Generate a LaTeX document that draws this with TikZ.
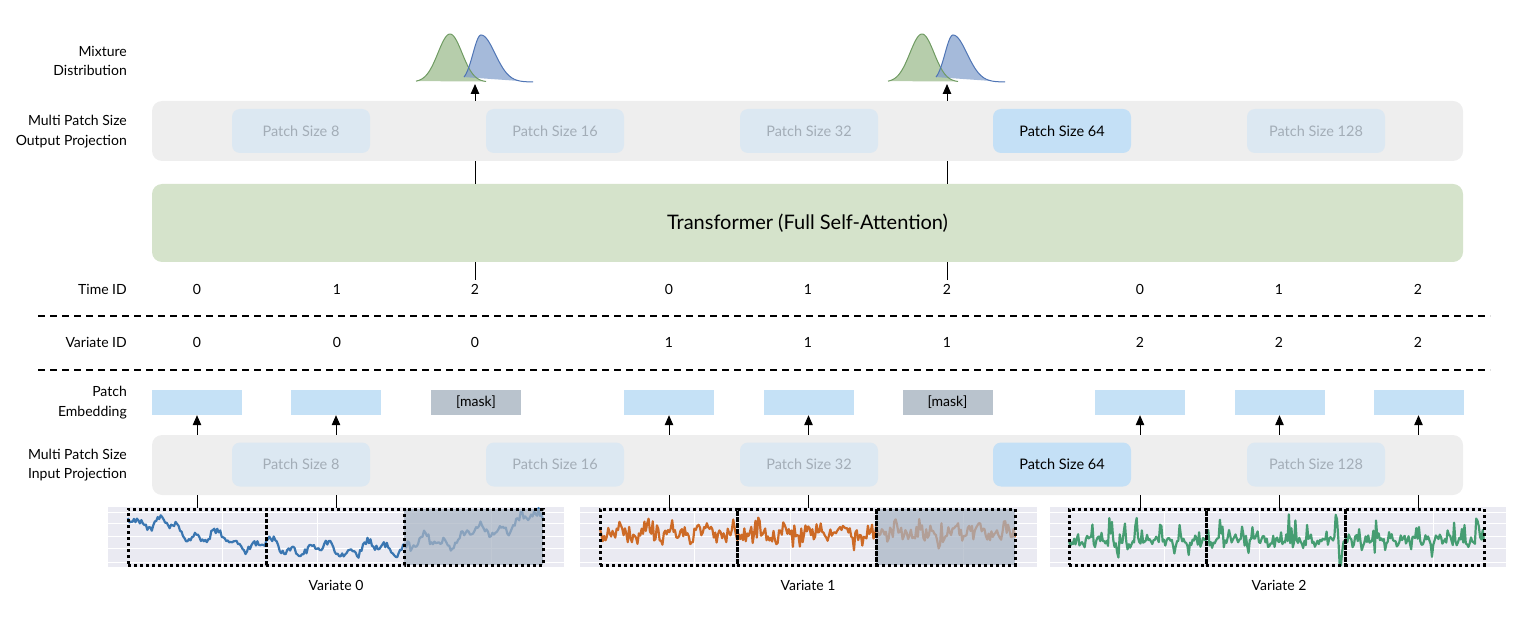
\documentclass[tikz,border=0pt]{standalone}
\usepackage{fontspec}
\setmainfont{Lato}
\usetikzlibrary{arrows.meta}
\definecolor{bandgray}{HTML}{EEEEEE}
\definecolor{pfaint}{HTML}{DCE8F2}
\definecolor{pfainttext}{HTML}{A3ADB7}
\definecolor{phigh}{HTML}{C4E0F6}
\definecolor{trgreen}{HTML}{D5E3CB}
\definecolor{embblue}{HTML}{C5E1F6}
\definecolor{maskgray}{HTML}{B9C3CD}
\definecolor{plotbg}{HTML}{EAEAF2}
\definecolor{serA}{HTML}{3A76B1}
\definecolor{serB}{HTML}{CD6A26}
\definecolor{serC}{HTML}{469D72}
\definecolor{maskover}{HTML}{A8B4C3}
\definecolor{distgfill}{HTML}{97B887}
\definecolor{distgline}{HTML}{6F9B62}
\definecolor{distbfill}{HTML}{7F9CCB}
\definecolor{distbline}{HTML}{4F75B5}
\begin{document}
\begin{tikzpicture}[x=1pt,y=-1pt,
  every node/.style={font=\fontsize{14}{19.5}\selectfont, inner sep=0pt},
  band/.style={fill=bandgray, rounded corners=10pt, minimum width=1311pt, minimum height=60pt},
  psfaint/.style={fill=pfaint, text=pfainttext, rounded corners=8pt, minimum width=138pt, minimum height=44pt, font=\fontsize{14.5}{17}\selectfont},
  pshigh/.style={psfaint, fill=phigh, text=black},
  rowlabel/.style={anchor=east, align=right},
  embbox/.style={fill=embblue, minimum width=90pt, minimum height=25pt},
  maskbox/.style={embbox, fill=maskgray},
  arr/.style={line width=1pt, -{Triangle[length=10pt,width=8.5pt]}},
  conn/.style={line width=1pt},
  sep/.style={line width=1.2pt, dash pattern=on 7pt off 5pt},
  pbox/.style={draw=black, line width=3pt, dash pattern=on 3pt off 3pt, minimum height=56pt},
  series/.style={line width=2.2pt, line join=round},
  distg/.style={fill=distgfill, fill opacity=0.7},
  distb/.style={fill=distbfill, fill opacity=0.7},
]
\useasboundingbox (0,0) rectangle (1536,636);

% ---------- labels on the left ----------
\node[rowlabel] (lmix) at (127,61) {Mixture\\Distribution};
\node[rowlabel] (lout) at (127,131.5) {Multi Patch Size\\Output Projection};
\node[rowlabel] (ltime) at (127,289) {Time ID};
\node[rowlabel] (lvar) at (127,342) {Variate ID};
\node[rowlabel] (lemb) at (127,402.5) {Patch\\Embedding};
\node[rowlabel] (lin) at (127,465) {Multi Patch Size\\Input Projection};

% ---------- output projection ----------
\node[band] (outband) at (807.5,131) {};
\node[psfaint] (o8) at (301,131) {Patch Size 8};
\node[psfaint] (o16) at (555,131) {Patch Size 16};
\node[psfaint] (o32) at (809,131) {Patch Size 32};
\node[pshigh] (o64) at (1062,131) {Patch Size 64};
\node[psfaint] (o128) at (1316,131) {Patch Size 128};

% ---------- transformer ----------
\node[fill=trgreen, rounded corners=10pt, minimum width=1311pt, minimum height=78pt,
      font=\fontsize{20}{24}\selectfont] (tr) at (807.5,223) {Transformer (Full Self-Attention)};

% ---------- ids ----------
\foreach \x/\v [count=\i] in {197/0,337/1,475/2,669/0,808/1,947/2,1140/0,1279/1,1418/2}
  \node (t\i) at (\x,289) {\v};
\foreach \x/\v [count=\i] in {197/0,337/0,475/0,669/1,808/1,947/1,1140/2,1279/2,1418/2}
  \node (v\i) at (\x,342) {\v};
\draw[sep] (38,316) -- (1490,316);
\draw[sep] (38,370) -- (1490,370);

% ---------- patch embedding ----------
\node[embbox] (e1) at (197,402.5) {};
\node[embbox] (e2) at (336,402.5) {};
\node[maskbox] (e3) at (476,402.5) {[mask]};
\node[embbox] (e4) at (669,402.5) {};
\node[embbox] (e5) at (808.5,402.5) {};
\node[maskbox] (e6) at (947.5,402.5) {[mask]};
\node[embbox] (e7) at (1140,402.5) {};
\node[embbox] (e8) at (1279.5,402.5) {};
\node[embbox] (e9) at (1418.5,402.5) {};

% ---------- input projection ----------
\node[band] (inband) at (807.5,465) {};
\node[psfaint] (i8) at (301,464.5) {Patch Size 8};
\node[psfaint] (i16) at (555,464.5) {Patch Size 16};
\node[psfaint] (i32) at (809,464.5) {Patch Size 32};
\node[pshigh] (i64) at (1062,464.5) {Patch Size 64};
\node[psfaint] (i128) at (1316,464.5) {Patch Size 128};

% ---------- time series panels ----------
\foreach \xa/\xb in {108/564, 580/1037, 1050/1506} {
  \fill[plotbg] (\xa,507) rectangle (\xb,567);
  \foreach \yy in {512,523,536,548,562}
    \draw[white, line width=0.8pt] (\xa,\yy) -- (\xb,\yy);
  \foreach \ff in {0.25,0.46,0.84}
    \draw[white, line width=0.8pt] ({\xa+\ff*(\xb-\xa)},507) -- ({\xa+\ff*(\xb-\xa)},567);
}
% variate 0
\pgfmathsetseed{11}
\draw[serA, series] plot[domain=0:415, samples=280]
  ({128+\x}, {515+140*(\x/415)*(1-\x/415) + 5*sin(7*\x) + 4*sin(19*\x+40) + 3*rand + 5*rand*rand*rand});
% variate 1
\pgfmathsetseed{5}
\draw[serB, series] plot[domain=0:415, samples=300]
  ({600+\x}, {533 + 8*rand + 4*sin(13*\x) + 3*sin(29*\x+10) + 10*rand*rand*rand});
% variate 2
\pgfmathsetseed{21}
\draw[serC, series] plot[domain=0:415, samples=320]
  ({1069+\x}, {541 + 4*rand + 3*sin(31*\x) - 22*(max(0,rand))^4 + 12*(max(0,rand))^6
        - 28*max(0,1-abs(\x-267)/3) + 24*max(0,1-abs(\x-272)/3) - 26*max(0,1-abs(\x-409)/3)});
% masks
\fill[maskover, opacity=0.72] (404,509) rectangle (543,565);
\fill[maskover, opacity=0.72] (876,509) rectangle (1015,565);

\node[pbox, minimum width=138pt] (b1) at (197,537) {};
\node[pbox, minimum width=138pt] (b2) at (335,537) {};
\node[pbox, minimum width=139pt, dash phase=3pt] (b3) at (473.5,537) {};
\node[pbox, minimum width=137pt] (b4) at (668.5,537) {};
\node[pbox, minimum width=139pt] (b5) at (806.5,537) {};
\node[pbox, minimum width=139pt] (b6) at (945.5,537) {};
\node[pbox, minimum width=137pt] (b7) at (1137.5,537) {};
\node[pbox, minimum width=139pt] (b8) at (1275.5,537) {};
\node[pbox, minimum width=139pt] (b9) at (1414.5,537) {};

\node (lv0) at (336,585) {Variate 0};
\node (lv1) at (808,585) {Variate 1};
\node (lv2) at (1279,585) {Variate 2};

% ---------- input connectors ----------
\foreach \i in {1,2,4,5,7,8,9} {
  \draw[arr] (inband.north -| e\i) -- (e\i.south);
  \draw[conn] (b\i.north -| e\i) -- (inband.south -| e\i);
}

% ---------- output connectors ----------
\coordinate (d1) at (475,84);
\coordinate (d2) at (947,84);
\foreach \t/\d in {3/d1,6/d2} {
  \draw[conn, shorten >=4pt] (tr.south -| t\t) -- (t\t.north);
  \draw[conn] (tr.north -| t\t) -- (outband.south -| t\t);
  \draw[arr] (outband.north -| t\t) -- (\d);
}

% ---------- mixture distributions ----------
\foreach \s in {0,472} {
  \begin{scope}[xshift=\s pt]
    \fill[distg] plot[domain=416:486, samples=70] (\x, {82-48*exp(-((\x-450)^2)/(2*12^2))}) -- cycle;
    \fill[distb] plot[domain=464:533, samples=70] (\x, {82-47*exp(-((\x-481)^2)/(2*(ifthenelse(\x<481,8,14))^2))}) -- cycle;
    \draw[distgline, line width=1pt] plot[domain=416:486, samples=70] (\x, {82-48*exp(-((\x-450)^2)/(2*12^2))});
    \draw[distbline, line width=1pt] plot[domain=464:533, samples=70] (\x, {82-47*exp(-((\x-481)^2)/(2*(ifthenelse(\x<481,8,14))^2))});
  \end{scope}
}
\end{tikzpicture}
\end{document}
